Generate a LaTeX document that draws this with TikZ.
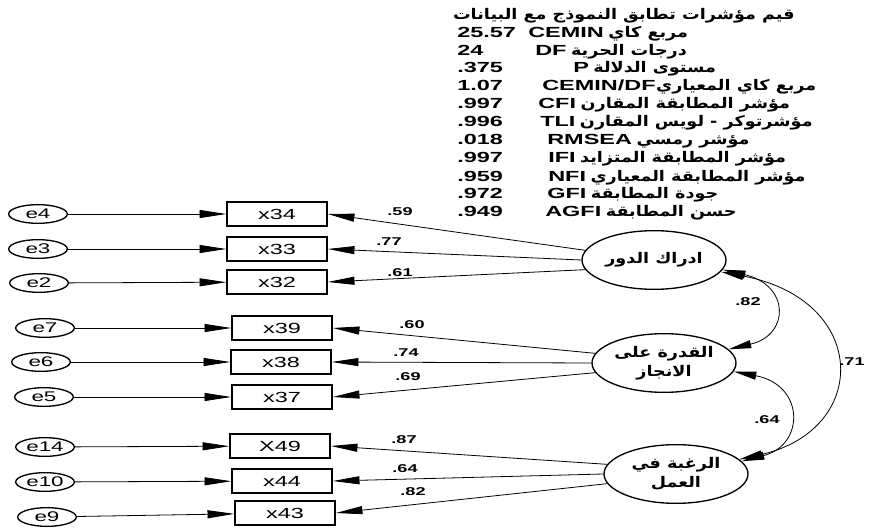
\documentclass[tikz,border=0pt]{standalone}
\usepackage{fontspec}
\setmainfont{Liberation Sans}[FakeStretch=1.6]
\newfontfamily\arfont[Script=Arabic,FakeStretch=1.2]{DejaVu Sans}
\TeXXeTstate=1
\usetikzlibrary{arrows.meta,shapes.geometric}
\newcommand\artxt[1]{{\arfont\beginR #1\endR}}
\begin{document}
\begin{tikzpicture}[x=0.75pt,y=-0.75pt,
 obs/.style={draw,line width=1.2pt,minimum width=75pt,minimum height=18pt,inner sep=0pt,font=\fontsize{11}{12}\selectfont},
 err/.style={ellipse,draw,line width=1pt,minimum width=44pt,minimum height=14pt,inner sep=0pt,font=\fontsize{10.5}{12}\selectfont},
 lat/.style={ellipse,draw,line width=1pt,fill=white,minimum width=108pt,minimum height=44pt,inner sep=0pt,align=center,font=\fontsize{11}{14}\selectfont\bfseries},
 arr/.style={-{Triangle[length=20pt,width=6pt]},line width=0.6pt},
 cov/.style={{Triangle[length=17pt,width=6pt]}-{Triangle[length=17pt,width=6pt]},line width=0.6pt},
 lbl/.style={font=\fontsize{8.5}{10}\selectfont\bfseries,inner sep=0pt},
 fitrow/.style={font=\fontsize{11}{12}\selectfont\bfseries,inner sep=0pt,anchor=base west},
]
\useasboundingbox (0,0) rectangle (869,528);

% fit indices
\node[fitrow,anchor=base east] (hdr) at (795,20) {\artxt{قيم مؤشرات تطابق النموذج مع البيانات}};
\node[fitrow] (v1) at (457,38) {25.57};
\node[fitrow] (k1) at (528,38) {CEMIN};
\node[fitrow] (a1) at ([xshift=3pt]k1.base east) {\artxt{مربع كاي}};
\node[fitrow] (v2) at (457,55.5) {24};
\node[fitrow] (k2) at (535,55.5) {DF};
\node[fitrow] (a2) at ([xshift=3pt]k2.base east) {\artxt{درجات الحرية}};
\node[fitrow] (v3) at (457,73) {.375};
\node[fitrow] (k3) at (573,73) {P};
\node[fitrow] (a3) at ([xshift=3pt]k3.base east) {\artxt{مستوى الدلالة}};
\node[fitrow] (v4) at (457,91) {1.07};
\node[fitrow] (k4) at (542,91) {CEMIN/DF};
\node[fitrow] (a4) at (k4.base east) {\artxt{مربع كاي المعياري}};
\node[fitrow] (v5) at (457,109) {.997};
\node[fitrow] (k5) at (538,109) {CFI};
\node[fitrow] (a5) at ([xshift=3pt]k5.base east) {\artxt{مؤشر المطابقة المقارن}};
\node[fitrow] (v6) at (457,127) {.996};
\node[fitrow] (k6) at (540,127) {TLI};
\node[fitrow] (a6) at ([xshift=3pt]k6.base east) {\artxt{مؤشرتوكر - لويس المقارن}};
\node[fitrow] (v7) at (457,145) {.018};
\node[fitrow] (k7) at (547,145) {RMSEA};
\node[fitrow] (a7) at ([xshift=3pt]k7.base east) {\artxt{مؤشر رمسي}};
\node[fitrow] (v8) at (457,163) {.997};
\node[fitrow] (k8) at (548,163) {IFI};
\node[fitrow] (a8) at ([xshift=3pt]k8.base east) {\artxt{مؤشر المطابقة المتزايد}};
\node[fitrow] (v9) at (457,181) {.959};
\node[fitrow] (k9) at (548,181) {NFI};
\node[fitrow] (a9) at ([xshift=3pt]k9.base east) {\artxt{مؤشر المطابقة المعياري}};
\node[fitrow] (v10) at (457,199) {.972};
\node[fitrow] (k10) at (547,199) {GFI};
\node[fitrow] (a10) at ([xshift=3pt]k10.base east) {\artxt{جودة المطابقة}};
\node[fitrow] (v11) at (457,217) {.949};
\node[fitrow] (k11) at (545,217) {AGFI};
\node[fitrow] (a11) at ([xshift=3pt]k11.base east) {\artxt{حسن المطابقة}};

% observed
\node[obs] (x34) at (277,214) {x34};
\node[obs] (x33) at (277,249) {x33};
\node[obs] (x32) at (277,282) {x32};
\node[obs] (x39) at (282,328) {x39};
\node[obs] (x38) at (281,362) {x38};
\node[obs] (x37) at (282,397) {x37};
\node[obs] (x49) at (280,446) {X49};
\node[obs] (x44) at (282,481) {x44};
\node[obs] (x43) at (285,513) {x43};

% errors
\node[err] (e4) at (38,214) {e4};
\node[err] (e3) at (38,249) {e3};
\node[err] (e2) at (39,283) {e2};
\node[err] (e7) at (45,328) {e7};
\node[err] (e6) at (41,362) {e6};
\node[err] (e5) at (44,397) {e5};
\node[err] (e14) at (45,447) {e14};
\node[err] (e10) at (45,482) {e10};
\node[err] (e9) at (47,517) {e9};

\foreach \e/\x in {e4/x34,e3/x33,e2/x32,e7/x39,e6/x38,e5/x37,e14/x49,e10/x44,e9/x43}
  \draw[arr] (\e) -- (\x);

% latent
\node[lat] (L1) at (654,260) {\artxt{ادراك الدور}};
\node[lat] (L2) at (664,363) {\artxt{القدرة على}\\\artxt{الانجاز}};
\node[lat] (L3) at (676,474) {\artxt{الرغبة في}\\\artxt{العمل}};

\draw[arr] (L1.172) -- (x34.east);
\draw[arr] (L1.180) -- (x33.east);
\draw[arr] (L1.188) -- (x32.east);
\draw[arr] (L2.172) -- (x39.east);
\draw[arr] (L2.180) -- (x38.east);
\draw[arr] (L2.188) -- (x37.east);
\draw[arr] (L3.172) -- (x49.east);
\draw[arr] (L3.180) -- (x44.east);
\draw[arr] (L3.188) -- (x43.east);

\node[lbl] (w1) at (400,212) {.59};
\node[lbl] (w2) at (389,242) {.77};
\node[lbl] (w3) at (400,273) {.61};
\node[lbl] (w4) at (412,325) {.60};
\node[lbl] (w5) at (406,353) {.74};
\node[lbl] (w6) at (408,377) {.69};
\node[lbl] (w7) at (404,440) {.87};
\node[lbl] (w8) at (405,469) {.64};
\node[lbl] (w9) at (413,492) {.82};

% covariances
\draw[cov] (L1.-8) .. controls (790,285) and (790,335) .. (L2.12);
\draw[cov] (L2.-7) .. controls (805,385) and (805,445) .. (L3.11);
\draw[cov] (L1.-10) .. controls (870,300) and (870,430) .. (L3.13);
\node[lbl] (c82) at (748,302) {.82};
\node[lbl] (c64) at (767,420) {.64};
\node[lbl] (c71) at (852,362) {.71};
\end{tikzpicture}
\end{document}
